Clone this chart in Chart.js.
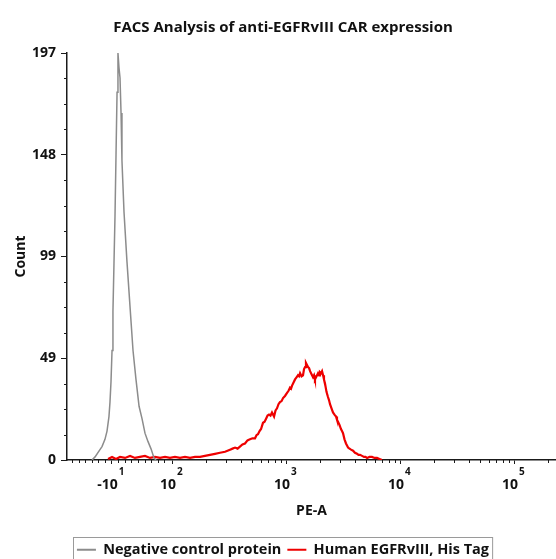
<!DOCTYPE html>
<html>
<head>
<meta charset="utf-8">
<script src="https://cdn.jsdelivr.net/npm/chart.js@4.4.0/dist/chart.umd.min.js"></script>
<style>
  body { margin: 0; background: #fff; }
</style>
</head>
<body>
<canvas id="facs-chart" width="556" height="559"></canvas>
<script>
// x values are positions on the PE-A display in decades (2 = 10^2, 3 = 10^3 ...)
const negativeX = [1.298, 1.325, 1.368, 1.386, 1.412, 1.430, 1.447, 1.456, 1.465, 1.474, 1.482, 1.491, 1.500, 1.509, 1.518, 1.526,
  1.535, 1.544, 1.553, 1.561, 1.579, 1.605, 1.632, 1.658, 1.684, 1.711, 1.737, 1.763, 1.789, 1.816, 1.842, 1.860];
const negativeCount = [0, 1.5, 5, 6.5, 10, 14, 21, 28, 38, 53, 72, 95, 118, 148, 178, 197,
  190, 185, 168, 145, 120, 96, 74, 53, 39, 26, 20, 13, 9, 5.4, 1, 0];

const egfrX = [1.439, 1.474, 1.509, 1.544, 1.588, 1.632, 1.675, 1.719, 1.763, 1.807, 1.851, 1.895, 1.939, 1.982,
  2.026, 2.070, 2.114, 2.158, 2.202, 2.246, 2.289, 2.333, 2.377, 2.421, 2.465,
  2.509, 2.531, 2.553, 2.575, 2.596, 2.618, 2.640, 2.662, 2.684, 2.706,
  2.728, 2.741, 2.754, 2.768, 2.781, 2.798, 2.812, 2.825, 2.838, 2.851,
  2.864, 2.877, 2.895, 2.908, 2.921, 2.934, 2.947, 2.961, 2.974, 2.991,
  3.009, 3.022, 3.035, 3.044, 3.053, 3.066, 3.079, 3.092, 3.105, 3.114,
  3.123, 3.136, 3.149, 3.158, 3.167, 3.175, 3.184, 3.193, 3.202, 3.211,
  3.224, 3.237, 3.246, 3.254, 3.268, 3.281, 3.290, 3.298, 3.307, 3.316,
  3.325, 3.333, 3.342, 3.355, 3.368, 3.377, 3.386, 3.399, 3.412, 3.425,
  3.439, 3.447, 3.456, 3.469, 3.482, 3.491, 3.500, 3.513, 3.526, 3.535,
  3.544, 3.557, 3.570, 3.588, 3.605, 3.623, 3.636, 3.649, 3.667, 3.684,
  3.697, 3.711, 3.732, 3.754, 3.776, 3.798, 3.820, 3.842];
const egfrCount = [0.5, 1.5, 0.5, 1.5, 1, 2, 1, 1.5, 2, 1, 1.5, 1, 1.5, 1,
  1.5, 1, 1.5, 1, 1.5, 1.5, 2, 2.5, 3, 3.5, 4,
  5, 5.5, 6, 5.5, 6.5, 7.5, 8, 9.5, 10, 10.5,
  10.5, 12, 12.5, 14, 15, 18, 18.5, 20, 21.5, 22,
  21.5, 23, 21, 24, 25, 27, 28, 28.5, 30, 31,
  32.5, 33.5, 35, 34.5, 36, 37.5, 39, 40, 41, 40.5,
  42, 40.5, 41, 44, 45, 47, 46, 45, 44.5, 43,
  41.5, 40, 41, 39, 40.5, 42, 41, 42.5, 42, 43,
  41, 39, 37, 33, 30.5, 29, 27, 25, 23, 22,
  21, 19.5, 18.5, 17, 15, 14, 13, 10, 8, 7,
  6, 5.5, 5, 4.5, 3.5, 3, 2.5, 2.5, 2, 1.5,
  1.5, 1, 1.5, 1.5, 1, 1, 0.5, 0];

const xMin = 1.079;
const xMax = 5.368;
const xTickValues = [1.47, 2, 3, 4, 5];
const xTickBases = ['-10', '10', '10', '10', '10'];
const xTickExponents = ['1', '2', '3', '4', '5'];

const yMax = 197;
const yTickLabels = ['0', '49', '99', '148', '197'];

const seriesNames = ['Negative control protein', 'Human EGFRvIII, His Tag'];
const seriesColors = ['#8c8c8c', '#ee0000'];

const toPoints = (xs, ys) => xs.map((x, i) => ({ x: x, y: ys[i] }));

const yMajor = yTickLabels.map((l, i) => yMax * i / (yTickLabels.length - 1));

// minor tick marks, drawn by the plugin below
const xMinor = [];
for (let v = xTickValues[0] - 0.058; v > xMin; v -= 0.058) xMinor.push(v);
for (let v = xTickValues[0] + 0.058; v < 1.97; v += 0.058) xMinor.push(v);
for (let d = 2; d <= 5; d++) {
  for (let k = 2; k <= 9; k++) {
    const v = d + Math.log10(k);
    if (v < xMax) xMinor.push(v);
  }
}
const yMinor = [];
for (let i = 1; i < 16; i++) {
  if (i % 4 !== 0) yMinor.push(yMax * i / 16);
}

const axisColor = '#1a1a1a';
const textFont = 'Open Sans';

const facsPlugin = {
  id: 'facsExtras',
  afterLayout(chart) {
    // title and legend sit a bit right of the full-width centre in the original
    chart.titleBlock.left += 5;
    chart.titleBlock.right += 5;
    chart.legend.left += 5;
    chart.legend.right += 5;
    chart.legend.top += 8;
    chart.legend.bottom += 8;
  },
  afterDraw(chart) {
    const ctx = chart.ctx;
    const xs = chart.scales.x;
    const ys = chart.scales.y;
    const area = chart.chartArea;
    ctx.save();
    ctx.strokeStyle = axisColor;
    ctx.lineWidth = 1;
    ctx.beginPath();
    xMinor.forEach(v => {
      const px = Math.round(xs.getPixelForValue(v)) + 0.5;
      ctx.moveTo(px, area.bottom);
      ctx.lineTo(px, area.bottom + 3);
    });
    yMinor.forEach(v => {
      const py = Math.round(ys.getPixelForValue(v)) + 0.5;
      ctx.moveTo(area.left - 3, py);
      ctx.lineTo(area.left, py);
    });
    ctx.stroke();

    // exponents of the x tick labels
    ctx.fillStyle = '#111';
    ctx.font = 'bold 14px "' + textFont + '"';
    const baseWidths = xTickBases.map(b => ctx.measureText(b).width);
    ctx.font = 'bold 10px "' + textFont + '"';
    ctx.textAlign = 'left';
    ctx.textBaseline = 'middle';
    xTickValues.forEach((v, i) => {
      const px = xs.getPixelForValue(v) - 4;
      ctx.fillText(xTickExponents[i], px + baseWidths[i] / 2 + 1, area.bottom + 12);
    });

    // box around the legend
    const boxes = chart.legend.legendHitBoxes;
    if (boxes && boxes.length) {
      const left = Math.min(...boxes.map(b => b.left)) - 4;
      const right = Math.max(...boxes.map(b => b.left + b.width)) + 3;
      const top = Math.min(...boxes.map(b => b.top)) - 6;
      ctx.strokeStyle = '#9a9a9a';
      ctx.lineWidth = 1;
      ctx.strokeRect(Math.round(left) + 0.5, Math.round(top) + 0.5, right - left, chart.height - top + 5);
    }
    ctx.restore();
  }
};

const ctx = document.getElementById('facs-chart').getContext('2d');
Chart.defaults.font.family = textFont;
Chart.defaults.color = '#111';

new Chart(ctx, {
  type: 'line',
  data: {
    datasets: [{
      label: seriesNames[0],
      data: toPoints(negativeX, negativeCount),
      borderColor: seriesColors[0],
      backgroundColor: seriesColors[0],
      borderWidth: 1.5,
      pointRadius: 0,
      tension: 0,
      fill: false
    }, {
      label: seriesNames[1],
      data: toPoints(egfrX, egfrCount),
      borderColor: seriesColors[1],
      backgroundColor: seriesColors[1],
      borderWidth: 2.2,
      pointRadius: 0,
      tension: 0,
      fill: false
    }]
  },
  options: {
    responsive: false,
    animation: false,
    layout: { padding: 0 },
    scales: {
      x: {
        type: 'linear',
        min: xMin,
        max: xMax,
        afterBuildTicks: scale => {
          scale.ticks = xTickValues.map(v => ({ value: v }));
        },
        afterFit: scale => {
          scale.height = 559 - 460 - scale.chart.legend.height;
        },
        ticks: {
          autoSkip: false,
          maxRotation: 0,
          padding: 13,
          labelOffset: -4,
          font: { size: 14, weight: 'bold' },
          callback: (value, index) => xTickBases[index]
        },
        grid: {
          drawOnChartArea: false,
          drawTicks: true,
          tickLength: 4,
          tickColor: axisColor
        },
        border: { display: true, color: axisColor, width: 1.5 },
        title: {
          display: true,
          text: 'PE-A',
          font: { size: 14, weight: 'bold' },
          padding: { top: 0, bottom: 9 }
        }
      },
      y: {
        min: 0,
        max: yMax,
        afterBuildTicks: scale => {
          scale.ticks = yMajor.map(v => ({ value: v }));
        },
        afterFit: scale => {
          scale.width = 67;
        },
        ticks: {
          autoSkip: false,
          padding: 5,
          font: { size: 14, weight: 'bold' },
          callback: (value, index) => yTickLabels[index]
        },
        grid: {
          drawOnChartArea: false,
          drawTicks: true,
          tickLength: 6,
          tickColor: axisColor
        },
        border: { display: true, color: axisColor, width: 1.5 },
        title: {
          display: true,
          text: 'Count',
          font: { size: 14, weight: 'bold' },
          padding: { top: 13, bottom: 0 }
        }
      }
    },
    plugins: {
      title: {
        display: true,
        text: 'FACS Analysis of anti-EGFRvIII CAR expression',
        font: { size: 15, weight: 'bold' },
        color: '#111',
        padding: { top: 19, bottom: 16 }
      },
      legend: {
        position: 'bottom',
        labels: {
          boxWidth: 19,
          boxHeight: 2,
          padding: 6,
          font: { size: 14.5, weight: 'bold' },
          generateLabels: chart => Chart.defaults.plugins.legend.labels.generateLabels(chart)
            .map(item => Object.assign(item, { lineWidth: 0 }))
        }
      },
      tooltip: { enabled: false }
    }
  },
  plugins: [facsPlugin]
});
</script>
</body>
</html>
